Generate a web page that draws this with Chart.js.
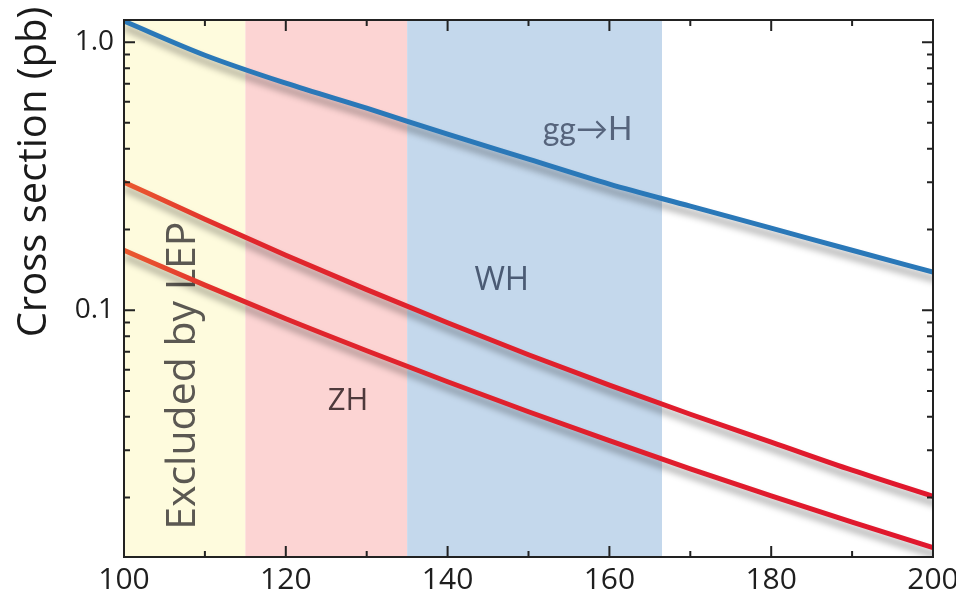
<!DOCTYPE html>
<html>
<head>
    <title>Higgs production cross sections</title>
    <script src="https://cdn.jsdelivr.net/npm/chart.js"></script>
    <style>
        body { margin: 0; background: #fff; }
        #wrap { width: 956px; height: 604px; }
    </style>
</head>
<body>
<div id="wrap"><canvas id="xsecChart" width="956" height="604"></canvas></div>
<script>
    // Higgs mass in GeV
    var masses = [100, 110, 120, 130, 140, 150, 160, 170, 180, 190, 200];
    // cross sections in pb
    var ggH = [1.198, 0.894, 0.703, 0.567, 0.4535, 0.366, 0.2953, 0.2444, 0.2023, 0.1674, 0.1386];
    var wh  = [0.3003, 0.2186, 0.1604, 0.1193, 0.0898, 0.0682, 0.0525, 0.0409, 0.0322, 0.0253, 0.0202];
    var zh  = [0.1674, 0.1240, 0.0929, 0.0706, 0.0541, 0.0418, 0.0326, 0.0256, 0.0203, 0.0162, 0.0130];

    // axis ticks
    var xTicks = [100, 120, 140, 160, 180, 200];
    var xMinorTicks = [110, 130, 150, 170, 190];
    var yTicks = [0.1, 1.0];
    var yTickLabels = ['0.1', '1.0'];
    var yMinorTicks = [0.02, 0.03, 0.04, 0.05, 0.06, 0.07, 0.08, 0.09, 0.2, 0.3, 0.4, 0.5, 0.6, 0.7, 0.8, 0.9];

    // shaded mass windows
    var regionStart = [100, 115, 135];
    var regionEnd = [115, 135, 166.5];
    var regionColors = ['#fefbdd', '#fcd4d3', '#c4d8ec'];

    var FONT = '"Open Sans", sans-serif';
    var yTitle = 'Cross section (pb)';

    // text placed in data coordinates
    var notes = [
        { text: 'gg\u2192H', x: 157.3, y: 0.47, size: 32, font: 'Lato, sans-serif', color: '#56647c', rot: 0 },
        { text: 'WH', x: 146.7, y: 0.129, size: 33, font: FONT, color: '#4b5b74', rot: 0 },
        { text: 'ZH', x: 127.7, y: 0.0457, size: 31, font: FONT, color: '#4e3a3c', rot: 0 },
        { text: 'Excluded by LEP', x: 107.3, y: 0.057, size: 41, font: FONT, color: '#5b5852', rot: -Math.PI / 2 }
    ];

    function points(values) {
        return masses.map(function (m, i) { return { x: m, y: values[i] }; });
    }

    function redStroke(c) {
        var area = c.chart.chartArea;
        if (!area) return '#df1f2b';
        var g = c.chart.ctx.createLinearGradient(area.left, 0, area.right, 0);
        g.addColorStop(0, '#ea5a30');
        g.addColorStop(0.14, '#e0272c');
        g.addColorStop(1, '#e0172d');
        return g;
    }

    var backdrop = {
        id: 'backdrop',
        beforeDatasetsDraw: function (chart) {
            var ctx = chart.ctx, a = chart.chartArea, x = chart.scales.x, y = chart.scales.y;
            ctx.save();
            regionStart.forEach(function (s, i) {
                var x0 = x.getPixelForValue(s), x1 = x.getPixelForValue(regionEnd[i]);
                ctx.fillStyle = regionColors[i];
                ctx.fillRect(x0, a.top, x1 - x0, a.bottom - a.top);
            });
            notes.forEach(function (n) {
                ctx.save();
                ctx.translate(x.getPixelForValue(n.x), y.getPixelForValue(n.y));
                ctx.rotate(n.rot);
                ctx.font = n.size + 'px ' + n.font;
                ctx.fillStyle = n.color;
                ctx.textAlign = 'center';
                ctx.textBaseline = 'middle';
                ctx.fillText(n.text, 0, 0);
                ctx.restore();
            });
            ctx.restore();
        },
        beforeDatasetDraw: function (chart) {
            var ctx = chart.ctx;
            ctx.save();
            ctx.shadowColor = 'rgba(0,0,0,0.38)';
            ctx.shadowBlur = 7;
            ctx.shadowOffsetX = 2;
            ctx.shadowOffsetY = 7;
        },
        afterDatasetDraw: function (chart) {
            chart.ctx.restore();
        }
    };

    // frame with inward tick marks on all four sides, plus the y title
    var frame = {
        id: 'frame',
        afterDatasetsDraw: function (chart) {
            var ctx = chart.ctx, a = chart.chartArea, x = chart.scales.x, y = chart.scales.y;
            ctx.save();
            ctx.strokeStyle = '#222';
            ctx.lineWidth = 2;
            ctx.strokeRect(a.left, a.top, a.right - a.left, a.bottom - a.top);
            ctx.beginPath();
            function xMark(v, len) {
                var px = x.getPixelForValue(v);
                ctx.moveTo(px, a.bottom); ctx.lineTo(px, a.bottom - len);
                ctx.moveTo(px, a.top); ctx.lineTo(px, a.top + len);
            }
            function yMark(v, len) {
                var py = y.getPixelForValue(v);
                ctx.moveTo(a.left, py); ctx.lineTo(a.left + len, py);
                ctx.moveTo(a.right, py); ctx.lineTo(a.right - len, py);
            }
            xTicks.forEach(function (v) { xMark(v, 11); });
            xMinorTicks.forEach(function (v) { xMark(v, 6); });
            yTicks.forEach(function (v) { yMark(v, 11); });
            yMinorTicks.forEach(function (v) { yMark(v, 6); });
            ctx.stroke();

            ctx.translate(35, 172);
            ctx.rotate(-Math.PI / 2);
            ctx.font = '40px ' + FONT;
            ctx.fillStyle = '#1a1a1a';
            ctx.textAlign = 'center';
            ctx.textBaseline = 'middle';
            ctx.fillText(yTitle, 0, 0);
            ctx.restore();
        }
    };

    var chart = new Chart(document.getElementById('xsecChart').getContext('2d'), {
        type: 'line',
        data: {
            datasets: [
                { label: 'gg\u2192H', data: points(ggH), borderColor: '#2a78b8', borderWidth: 5 },
                { label: 'WH', data: points(wh), borderColor: redStroke, borderWidth: 5 },
                { label: 'ZH', data: points(zh), borderColor: redStroke, borderWidth: 5 }
            ]
        },
        options: {
            responsive: false,
            animation: false,
            events: [],
            layout: { padding: { top: 20, right: 23, left: 0, bottom: 0 } },
            elements: {
                point: { radius: 0 },
                line: { cubicInterpolationMode: 'monotone', fill: false, borderCapStyle: 'round' }
            },
            plugins: {
                legend: { display: false },
                tooltip: { enabled: false }
            },
            scales: {
                x: {
                    type: 'linear',
                    min: 100,
                    max: 200,
                    bounds: 'data',
                    grid: { display: false, drawTicks: false },
                    border: { display: false },
                    afterBuildTicks: function (s) { s.ticks = xTicks.map(function (v) { return { value: v }; }); },
                    afterFit: function (s) { s.height = 47; s.paddingLeft = 0; s.paddingRight = 0; },
                    ticks: {
                        maxRotation: 0,
                        autoSkip: false,
                        padding: 5,
                        color: '#1e1e1e',
                        font: { family: FONT, size: 30 }
                    }
                },
                y: {
                    type: 'logarithmic',
                    min: 0.012,
                    max: 1.21,
                    bounds: 'data',
                    grid: { display: false, drawTicks: false },
                    border: { display: false },
                    afterBuildTicks: function (s) { s.ticks = yTicks.map(function (v) { return { value: v }; }); },
                    afterFit: function (s) { s.width = 124; s.paddingTop = 0; s.paddingBottom = 0; },
                    ticks: {
                        padding: 10,
                        color: '#1e1e1e',
                        font: { family: FONT, size: 28 },
                        callback: function (v) { return yTickLabels[yTicks.indexOf(v)]; }
                    }
                }
            }
        },
        plugins: [backdrop, frame]
    });
</script>
</body>
</html>
